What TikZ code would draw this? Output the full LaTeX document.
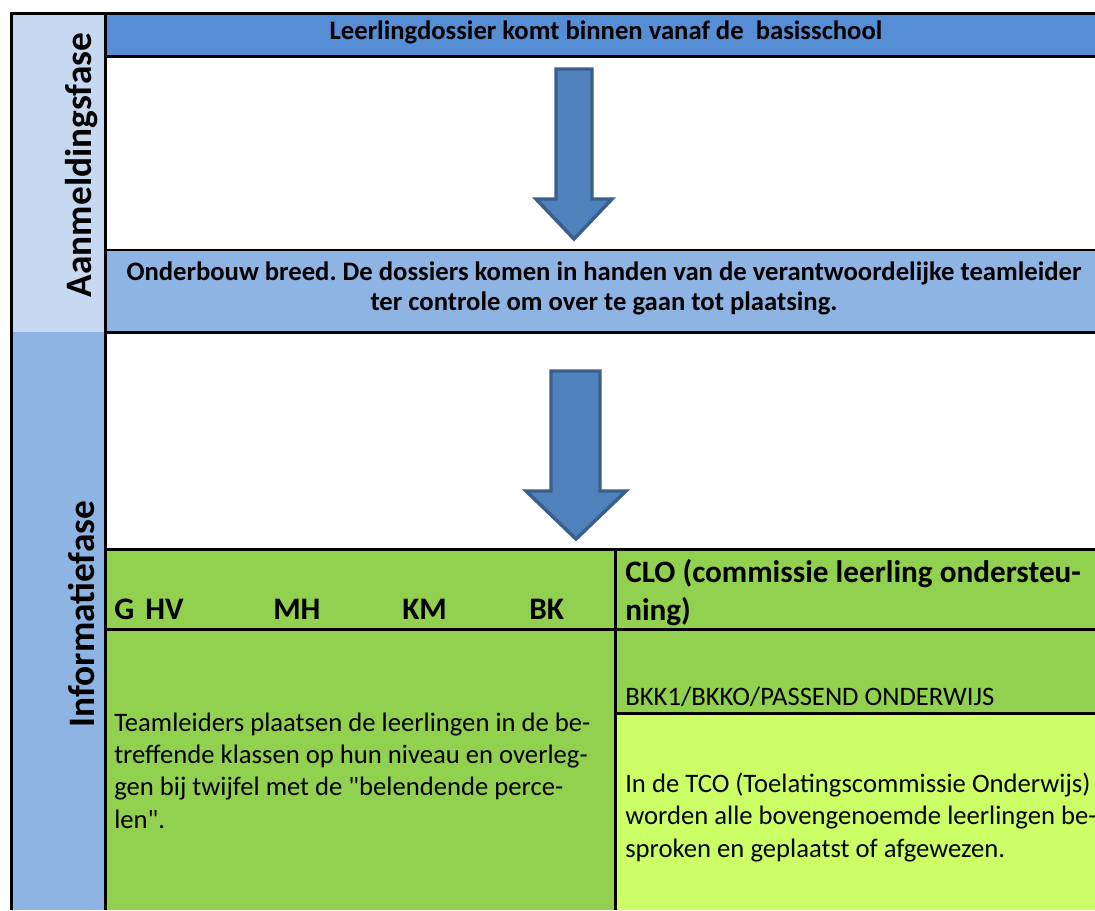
\documentclass[tikz,border=0pt]{standalone}
\usepackage{fontspec}
\setmainfont{Carlito}
\frenchspacing
\usetikzlibrary{positioning}
\definecolor{hdrblue}{HTML}{558ED5}
\definecolor{paleblue}{HTML}{C6D9F1}
\definecolor{midblue}{HTML}{8EB4E3}
\definecolor{grass}{HTML}{92D050}
\definecolor{lime}{HTML}{CCFF66}
\definecolor{arrowfill}{HTML}{4F81BD}
\definecolor{arrowline}{HTML}{3A5F8B}
\tikzset{
frame/.style={
    line width=2.25pt,
    black
},
thinframe/.style={
    line width=0.8pt,
    black
},
blockarrow/.style={
    fill=arrowfill,
    draw=arrowline,
    line width=2.6pt,
    line join=miter
},
phase/.style={
    rotate=90,
    inner sep=0pt,
    font=\fontsize{28}{33}\selectfont\bfseries
},
headtext/.style={
    inner sep=0pt,
    font=\fontsize{20}{24}\selectfont\bfseries
},
boxtext/.style={
    inner sep=0pt,
    align=center,
    font=\fontsize{20}{22.5}\selectfont\bfseries
},
level/.style={
    inner sep=0pt,
    anchor=base west,
    font=\fontsize{23.5}{27}\selectfont\bfseries
},
clotext/.style={
    inner sep=0pt,
    anchor=base west,
    align=left,
    font=\fontsize{23.4}{27.8}\selectfont\bfseries
},
plain/.style={
    inner sep=0pt,
    anchor=base west,
    align=left,
    font=\fontsize{20}{24.2}\selectfont
}}

\begin{document}
\begin{tikzpicture}[x=0.75pt,y=-0.75pt]
\useasboundingbox (0,0) rectangle (1095,910);

% coloured cells
\fill[paleblue]  (11,13)   rectangle (105,332);
\fill[midblue]   (11,332)  rectangle (105,910);
\fill[hdrblue]   (105,13)  rectangle (1095,56);
\fill[midblue]   (105,250) rectangle (1095,332);
\fill[grass]     (105,549) rectangle (1095,910);
\fill[lime]      (615,713) rectangle (1095,910);

% grid lines
\draw[frame]     (11,910)  -- (11,13) -- (1095,13);
\draw[frame]     (105,13)  -- (105,910);
\draw[frame]     (105,56)  -- (1095,56);
\draw[thinframe] (105,250) -- (1095,250);
\draw[frame]     (105,332) -- (1095,332);
\draw[frame]     (105,549) -- (1095,549);
\draw[frame]     (615,549) -- (615,910);
\draw[frame]     (105,629) -- (1095,629);
\draw[frame]     (615,713) -- (1095,713);

% phases
\node[phase] (aanm) at (82,165) {Aanmeldingsfase};
\node[phase] (info) at (82,614) {Informatiefase};

% blue rows
\node[headtext] (dossier) at (606,32)  {Leerlingdossier komt binnen vanaf de~ basisschool};
\node[boxtext]  (check)   at (604,288) {Onderbouw breed. De dossiers komen in handen van de verantwoordelijke teamleider\\ter controle om over te gaan tot plaatsing.};

% arrows
\draw[blockarrow] (556,69) -- (592,69) -- (592,199) -- (612,199) -- (574,239)
                  -- (536,199) -- (556,199) -- cycle;
\draw[blockarrow] (551,371) -- (600,371) -- (600,491) -- (626,491) -- (576,539)
                  -- (526,491) -- (551,491) -- cycle;

% levels
\node[level] (g)  at (114,619) {G};
\node[level] (hv) at (145,619) {HV};
\node[level] (mh) at (273,619) {MH};
\node[level] (km) at (402,619) {KM};
\node[level] (bk) at (529,619) {BK};

% last baseline is the node base
\node[clotext] (clo) at (625,620) {CLO (commissie leerling ondersteu-\\ning)};
\node[plain]   (bkk) at (625,705) {BKK1/BKKO/PASSEND ONDERWIJS};

\node[plain] (team) at (114,828) {Teamleiders plaatsen de leerlingen in de be-\\treffende klassen op hun niveau en overleg-\\gen bij twijfel met de \textquotedbl belendende perce-\\len\textquotedbl.};
\node[plain] (tco)  at (625,857) {In de TCO (Toelatingscommissie Onderwijs)\\worden alle bovengenoemde leerlingen be-\\sproken en geplaatst of afgewezen.};
\end{tikzpicture}
\end{document}
